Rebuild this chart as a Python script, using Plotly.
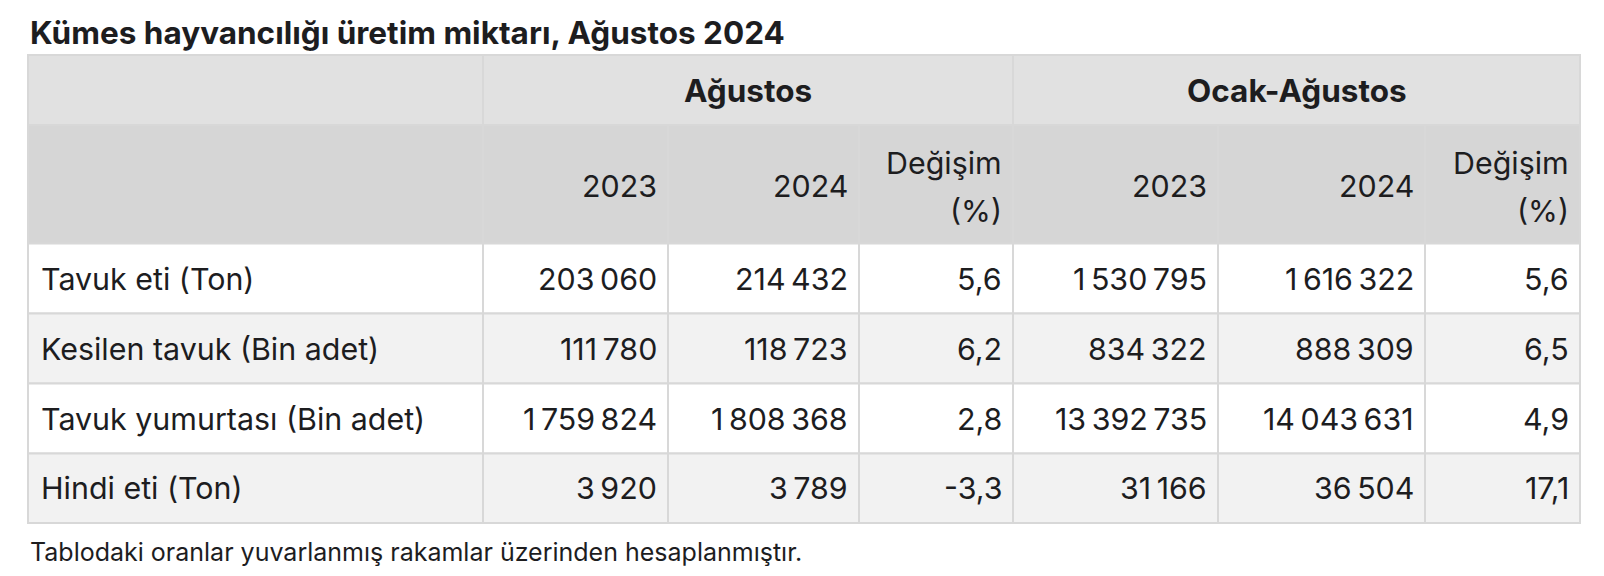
import plotly.graph_objects as go

# ---- data ----
title_text = "Kümes hayvancılığı üretim miktarı, Ağustos 2024"
footnote_text = "Tablodaki oranlar yuvarlanmış rakamlar üzerinden hesaplanmıştır."
group_labels = ["Ağustos", "Ocak-Ağustos"]
sub_labels = ["2023", "2024", "Değişim|(%)"]
categories = ["Tavuk eti (Ton)", "Kesilen tavuk (Bin adet)",
              "Tavuk yumurtası (Bin adet)", "Hindi eti (Ton)"]
aug_2023 = [203060, 111780, 1759824, 3920]
aug_2024 = [214432, 118723, 1808368, 3789]
aug_change = [5.6, 6.2, 2.8, -3.3]
ytd_2023 = [1530795, 834322, 13392735, 31166]
ytd_2024 = [1616322, 888309, 14043631, 36504]
ytd_change = [5.6, 6.5, 4.9, 17.1]

# ---- layout geometry (page pixels) ----
OFF = 8                      # default page body margin
W, H = 1604 - 2 * OFF, 576 - 2 * OFF
col_edges = [28, 483, 668, 859, 1013, 1218, 1425, 1580]
row_edges = [55, 125, 243.5, 313.5, 383.5, 453.5, 523]
PAD_R = 9
PAD_L = 11
FONT = "Inter, 'Noto Sans', sans-serif"
TXT = "#1d1d1f"
BORDER = "#d8d8d8"
FS = 30.4
FS_BOLD = 31.5


def fmt_int(v):
    return f"{v:,}".replace(",", "\u202f")


def fmt_pct(v):
    return f"{v:.1f}".replace(".", ",")


shapes = []
annotations = []


def rect(x0, x1, y0, y1, fill):
    shapes.append(dict(type="rect", xref="x", yref="y", x0=x0, x1=x1, y0=y0, y1=y1,
                       fillcolor=fill, line=dict(color=BORDER, width=2), layer="below"))


def text(x, y, s, anchor, size=FS, bold=False):
    annotations.append(dict(xref="x", yref="y", x=x, y=y, text=(f"<b>{s}</b>" if bold else s),
                            showarrow=False, xanchor=anchor, yanchor="middle",
                            font=dict(family=FONT, size=size, color=TXT)))


# header row 1 (merged groups)
y0, y1 = row_edges[0], row_edges[1]
rect(col_edges[0], col_edges[1], y0, y1, "#e1e1e1")
for g, lab in enumerate(group_labels):
    a, b = col_edges[1 + 3 * g], col_edges[4 + 3 * g]
    rect(a, b, y0, y1, "#e1e1e1")
    text((a + b) / 2, (y0 + y1) / 2, lab, "center", size=FS_BOLD, bold=True)

# header row 2
y0, y1 = row_edges[1], row_edges[2]
rect(col_edges[0], col_edges[1], y0, y1, "#d6d6d6")
for c in range(6):
    a, b = col_edges[1 + c], col_edges[2 + c]
    rect(a, b, y0, y1, "#d6d6d6")
    lab = sub_labels[c % 3]
    parts = lab.split("|")
    ym = (y0 + y1) / 2
    if len(parts) == 1:
        text(b - PAD_R, ym + 2, parts[0], "right")
    else:
        text(b - PAD_R, ym - 21, parts[0], "right")
        text(b - PAD_R, ym + 27, parts[1], "right")

# body rows
cols = [aug_2023, aug_2024, aug_change, ytd_2023, ytd_2024, ytd_change]
for r, cat in enumerate(categories):
    y0, y1 = row_edges[2 + r], row_edges[3 + r]
    fill = "#ffffff" if r % 2 == 0 else "#f2f2f2"
    ym = (y0 + y1) / 2
    rect(col_edges[0], col_edges[1], y0, y1, fill)
    text(col_edges[0] + PAD_L, ym, cat, "left")
    for c, series in enumerate(cols):
        a, b = col_edges[1 + c], col_edges[2 + c]
        rect(a, b, y0, y1, fill)
        v = series[r]
        s = fmt_pct(v) if c % 3 == 2 else fmt_int(v)
        text(b - PAD_R, ym, s, "right")

# title and footnote
text(28, 32, title_text, "left", size=FS_BOLD, bold=True)
text(28, 552, footnote_text, "left", size=25)

fig = go.Figure()
fig.update_layout(
    width=W, height=H, margin=dict(l=0, r=0, t=0, b=0),
    paper_bgcolor="white", plot_bgcolor="white",
    xaxis=dict(range=[OFF, OFF + W], visible=False, fixedrange=True),
    yaxis=dict(range=[OFF + H, OFF], visible=False, fixedrange=True),
    shapes=shapes, annotations=annotations, showlegend=False,
)
fig.write_html("out.html")
